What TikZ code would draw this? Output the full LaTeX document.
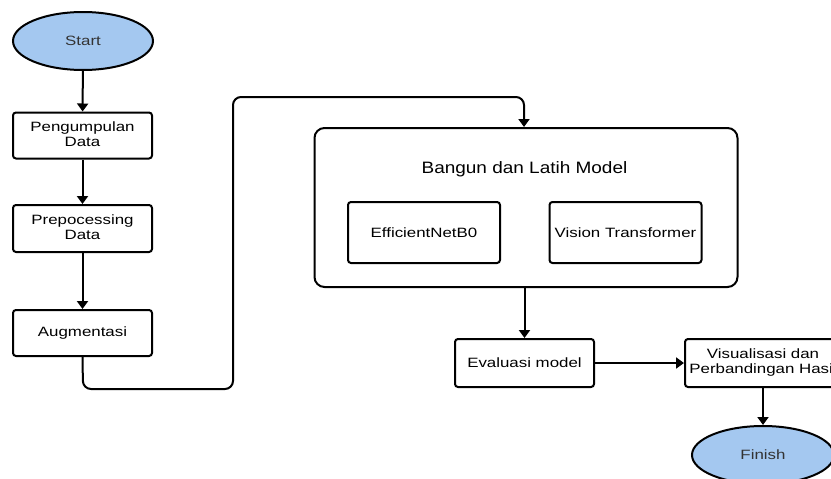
\documentclass[tikz,border=0pt]{standalone}
\usepackage{fontspec}
\setmainfont{Liberation Sans}
\usetikzlibrary{arrows.meta,calc,shapes.geometric}
\definecolor{ovalblue}{HTML}{A4C8F0}
\definecolor{ovaltext}{HTML}{333333}
\newcommand\hs[1]{\scalebox{1.25}[1]{#1}}
\newcommand\twol[2]{\hs{\begin{tabular}{@{}c@{}}#1\\#2\end{tabular}}}
\begin{document}
\begin{tikzpicture}[x=1pt,y=-1pt,
  line width=2pt,
  tip/.style={-{Triangle[length=8pt,width=11pt]}},
  stepbox/.style={draw,rounded corners=3pt,minimum width=139pt,minimum height=46pt,inner sep=0pt,
    font=\fontsize{13.5}{15}\selectfont},
  oval/.style={draw,ellipse,fill=ovalblue,minimum width=140pt,minimum height=58pt,inner sep=0pt,
    text=ovaltext,font=\fontsize{13.5}{15}\selectfont},
  bigbox/.style={draw,rounded corners=10pt,minimum width=423pt,minimum height=159pt,inner sep=0pt},
  modelbox/.style={draw,rounded corners=3pt,minimum width=152pt,minimum height=61pt,inner sep=0pt,
    font=\fontsize{13.5}{15}\selectfont}]
\useasboundingbox (0,0) rectangle (831,479);
\clip (0,0) rectangle (831,479);
\node[oval] (start) at (83,41) {\hs{Start}};
\node[stepbox] (pd) at (82.5,135.5) {\twol{Pengumpulan}{Data}};
\node[stepbox,minimum height=47pt] (pp) at (82.5,228.5) {\twol{Prepocessing}{Data}};
\node[stepbox] (aug) at (82.5,333) {\hs{Augmentasi}};
\node[bigbox] (big) at (526,207.5) {};
\node[font=\fontsize{16.5}{18}\selectfont] (title) at (524.5,169) {\scalebox{1.15}[1]{Bangun dan Latih Model}};
\node[modelbox] (eff) at (424,232.5) {\hs{EfficientNetB0}};
\node[modelbox] (vit) at (625.5,232.5) {\hs{Vision Transformer}};
\node[stepbox,minimum height=48pt] (eval) at (524.5,363) {\hs{Evaluasi model}};
\node[stepbox,minimum width=156pt,minimum height=48pt] (vis) at (763,363) {\twol{Visualisasi dan}{Perbandingan Hasil}};
\node[oval,minimum width=142pt] (fin) at (763,455) {\hs{Finish}};
\coordinate (b1) at (83,389);
\coordinate (b2) at (233,389);
\coordinate (b3) at (233,97);
\coordinate (b4) at (524,97);
\draw[tip] (start) -- (pd);
\draw[tip] (pd) -- (pp);
\draw[tip] (pp) -- (aug);
\draw[tip,rounded corners=8pt] (aug.south) -- (b1) -- (b2) -- (b3) -- (b4) -- (big.north -| b4);
\draw[tip] (big.south -| eval.north) -- (eval.north);
\draw[tip] (eval) -- (vis);
\draw[tip] (vis) -- (fin);
\end{tikzpicture}
\end{document}
